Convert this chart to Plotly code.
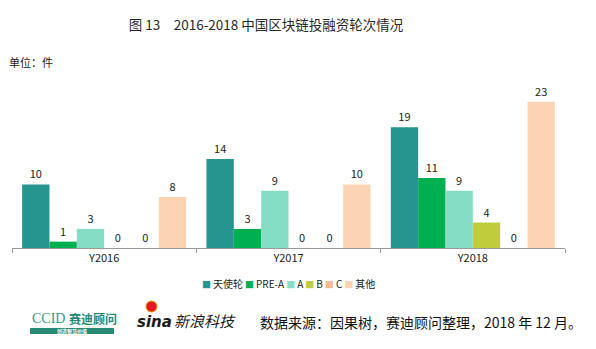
import plotly.graph_objects as go

# Financing rounds of blockchain projects in China, 2016-2018 (count of deals)
years = ["Y2016", "Y2017", "Y2018"]
rounds = ["天使轮", "PRE-A", "A", "B", "C", "其他"]
angel = [10, 14, 19]
pre_a = [1, 3, 11]
round_a = [3, 9, 9]
round_b = [0, 0, 4]
round_c = [0, 0, 0]
others = [8, 10, 23]

series = [angel, pre_a, round_a, round_b, round_c, others]
colors = ["#26958f", "#00b050", "#86ddc5", "#c0cc3c", "#f5b994", "#fcd4b4"]

W, H = 596, 349
ML, MR, MT, MB = 12, 31, 89, 101
PLOT_H = H - MT - MB
FONT = "Noto Sans CJK SC, Noto Sans, sans-serif"

fig = go.Figure()
for name, vals, col in zip(rounds, series, colors):
    fig.add_trace(go.Bar(
        x=years, y=vals, name=name,
        marker=dict(color=col, line=dict(width=0)),
        text=[str(v) for v in vals],
        textposition="outside",
        textfont=dict(size=11, color="#222222", family=FONT),
        cliponaxis=False,
        showlegend=False,
    ))


def py(pixel_y):
    """Convert a page pixel row to paper y coordinates."""
    return (H - MB - pixel_y) / PLOT_H


def px(pixel_x):
    return (pixel_x - ML) / (W - ML - MR)


# compact legend: coloured square followed by the round name
legend_text = "\u2009".join(
    f'<span style="color:{c}; font-size:9px">■</span>\u2009{r}'
    for r, c in zip(rounds, colors)
)

annotations = [
    dict(text=legend_text, x=px(288), y=py(283), xanchor="center", yanchor="middle",
         font=dict(size=10, color="#222222", family=FONT)),
    dict(text="单位：件", x=px(7), y=py(62), xanchor="left", yanchor="middle",
         font=dict(size=11, color="#222222", family=FONT)),
    # footer: logos rendered as text plus the data source line
    dict(text="CCID", x=px(30), y=py(318), xanchor="left", yanchor="middle",
         font=dict(size=14, color="#3a9a8a", family="Liberation Serif, serif")),
    dict(text="<b>赛迪顾问</b>", x=px(67), y=py(318), xanchor="left", yanchor="middle",
         font=dict(size=12, color="#2a8a78", family=FONT)),
    dict(text="<b>创造智慧价值</b>", x=px(72), y=py(331), xanchor="center", yanchor="middle",
         font=dict(size=5, color="#ffffff", family=FONT)),
    dict(text="<b><i>sina</i></b>", x=px(135), y=py(322), xanchor="left", yanchor="middle",
         font=dict(size=15, color="#1a1a1a", family="DejaVu Sans, sans-serif")),
    dict(text="<i>新浪科技</i>", x=px(172), y=py(320), xanchor="left", yanchor="middle",
         font=dict(size=15, color="#1a1a1a", family=FONT)),
    dict(text="数据来源：因果树，赛迪顾问整理，2018 年 12 月。", x=px(258), y=py(322),
         xanchor="left", yanchor="middle",
         font=dict(size=14, color="#111111", family=FONT)),
]
for a in annotations:
    a.update(xref="paper", yref="paper", showarrow=False)

shapes = [
    # teal band under the CCID logo
    dict(type="rect", xref="paper", yref="paper",
         x0=px(30), x1=px(114), y0=py(328), y1=py(334),
         fillcolor="#2a8a78", line=dict(width=0), layer="above"),
    # red eye of the sina logo
    dict(type="circle", xref="paper", yref="paper",
         x0=px(146), x1=px(157), y0=py(312), y1=py(301),
         fillcolor="#e6162d", line=dict(width=1, color="#f5a000"), layer="above"),
]

fig.update_layout(
    width=W, height=H,
    margin=dict(l=ML, r=MR, t=MT, b=MB),
    paper_bgcolor="white", plot_bgcolor="white",
    barmode="group", bargap=0.11, bargroupgap=0,
    title=dict(text="图 13\u20032016-2018 中国区块链投融资轮次情况",
               x=266 / W, xanchor="center", y=1 - 25 / H, yanchor="middle",
               font=dict(size=13.5, color="#2a2a2a", family=FONT)),
    xaxis=dict(showline=True, linecolor="#999999", linewidth=1,
               ticks="outside", ticklen=4, tickcolor="#999999",
               tickson="boundaries", showgrid=False,
               tickfont=dict(size=11, color="#222222", family=FONT)),
    yaxis=dict(range=[0, 25], visible=False, showgrid=False, zeroline=False),
    showlegend=False,
    annotations=annotations,
    shapes=shapes,
)

fig.write_html("out.html")
